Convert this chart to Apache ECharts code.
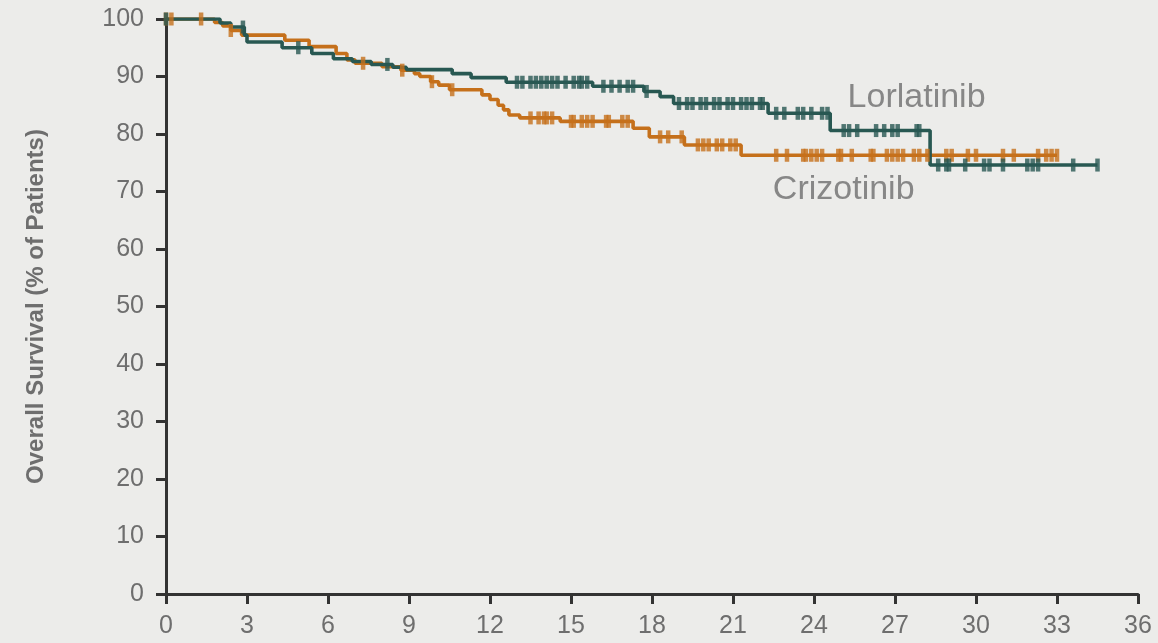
<!DOCTYPE html>
<html>
<head>
<meta charset="utf-8">
<script src="https://cdn.jsdelivr.net/npm/echarts@6/dist/echarts.min.js"></script>
<style>
  html, body { margin: 0; padding: 0; background: #ececea; }
  #chart { width: 1158px; height: 643px; }
</style>
</head>
<body>
<div id="chart"></div>
<script>
// Kaplan-Meier overall survival, months since randomisation
const xTicks = [0, 3, 6, 9, 12, 15, 18, 21, 24, 27, 30, 33, 36];
const yTicks = [0, 10, 20, 30, 40, 50, 60, 70, 80, 90, 100];

// step points: [month, survival %] - survival holds from this month onward
const lorlatinibSteps = [
  [0, 100], [2.0, 99.3], [2.4, 98.6], [2.9, 97.2], [3.0, 96.0], [4.3, 95.0],
  [5.4, 94.0], [6.2, 93.1], [6.9, 92.6], [7.6, 92.1], [8.4, 91.6], [8.9, 91.2],
  [10.6, 90.5], [11.3, 89.8], [12.6, 89.0], [15.8, 88.3], [17.7, 87.4],
  [18.3, 86.5], [18.8, 85.3], [22.3, 83.6], [24.6, 80.6], [28.3, 74.6], [34.5, 74.6]
];
const crizotinibSteps = [
  [0, 100], [1.8, 99.4], [2.1, 98.8], [2.4, 98.0], [2.8, 97.2], [4.4, 96.3],
  [5.3, 95.2], [6.3, 94.0], [6.7, 92.9], [7.0, 92.3], [8.0, 91.7], [8.7, 91.1],
  [9.2, 90.5], [9.4, 90.0], [9.8, 89.1], [10.1, 88.5], [10.5, 87.7], [11.7, 86.8],
  [12.0, 86.0], [12.3, 85.0], [12.5, 84.2], [12.7, 83.3], [13.1, 82.8], [14.6, 82.2],
  [17.3, 81.0], [17.9, 79.5], [19.2, 78.1], [21.3, 76.3], [33.0, 76.3]
];

// censored patients (months)
const lorlatinibCensored = [
  0, 2.85, 4.9, 8.2,
  13.0, 13.2, 13.5, 13.7, 13.9, 14.1, 14.3, 14.5, 14.8, 15.1, 15.3, 15.4, 15.6,
  16.2, 16.5, 16.8, 17.1, 17.3, 17.8,
  19.0, 19.3, 19.5, 19.8, 20.0, 20.3, 20.5, 20.8, 21.0, 21.3, 21.5, 21.7, 22.0, 22.1,
  22.6, 22.9, 23.4, 23.6, 23.9, 24.3, 24.5,
  25.1, 25.3, 25.6, 26.3, 26.6, 26.9, 27.1, 27.8, 27.9,
  28.6, 28.9, 29.0, 29.6, 30.3, 30.5, 31.0, 31.9, 32.1, 32.3, 33.6, 34.5
];
const crizotinibCensored = [
  0, 0.2, 1.3, 2.4, 7.3, 8.75, 9.85, 10.6,
  13.5, 13.8, 14.0, 14.1, 14.3, 15.0, 15.1, 15.4, 15.6, 15.8, 16.3, 16.4, 16.9, 17.1,
  18.3, 18.6, 19.1,
  19.7, 19.9, 20.1, 20.4, 20.6, 20.9, 21.1,
  22.6, 23.0, 23.6, 23.7, 23.9, 24.1, 24.3, 24.9, 25.0, 25.4, 26.1, 26.2, 26.7, 26.9,
  27.1, 27.3, 27.7, 27.9, 28.2,
  28.9, 29.1, 29.7, 30.0, 31.0, 31.4, 32.3, 32.6, 32.8, 33.0
];

// curve name labels: [month, survival %]
const lorlatinibLabelAt = [27.8, 86.4];
const crizotinibLabelAt = [25.1, 70.3];

const tealColor = '#285852';
const orangeColor = '#c5701b';
const textColor = '#6e6e6e';
const fontFamily = 'Liberation Sans, Arial, sans-serif';

// survival value of a step curve at month t
function survivalAt(steps, t) {
  let s = steps[0][1];
  for (const [m, v] of steps) {
    if (m <= t) s = v; else break;
  }
  return s;
}

const censorPoints = (steps, times) => times.map(t => [t, survivalAt(steps, t)]);

const censorSeries = (name, steps, times, color) => ({
  name: name,
  type: 'scatter',
  data: censorPoints(steps, times),
  symbol: 'rect',
  symbolSize: [4.5, 13],
  itemStyle: { color: color },
  z: 3,
  silent: true
});

const curveSeries = (name, steps, color) => ({
  name: name,
  type: 'line',
  step: 'end',
  data: steps,
  showSymbol: false,
  lineStyle: { color: color, width: 3.6 },
  z: 2,
  silent: true
});

const labelSeries = (text, at) => ({
  type: 'scatter',
  data: [at],
  symbolSize: 0,
  silent: true,
  label: {
    show: true,
    position: 'inside',
    formatter: text,
    fontFamily: fontFamily,
    fontSize: 34,
    color: textColor
  }
});

const chart = echarts.init(document.getElementById('chart'));
chart.setOption({
  backgroundColor: '#ececea',
  animation: false,
  grid: { left: 166, right: 20, top: 19, bottom: 49 },
  xAxis: {
    type: 'value',
    min: xTicks[0],
    max: xTicks[xTicks.length - 1],
    interval: 3,
    axisLine: { lineStyle: { color: '#333', width: 3 } },
    axisTick: { show: true, length: 10, lineStyle: { color: '#333', width: 3 } },
    axisLabel: { color: textColor, fontFamily: fontFamily, fontSize: 25, margin: 20 },
    splitLine: { show: false }
  },
  yAxis: {
    type: 'value',
    min: yTicks[0],
    max: yTicks[yTicks.length - 1],
    interval: 10,
    name: 'Overall Survival (% of Patients)',
    nameLocation: 'middle',
    nameGap: 118,
    nameTextStyle: { color: textColor, fontFamily: fontFamily, fontSize: 24, fontWeight: 'bold' },
    axisLine: { show: true, lineStyle: { color: '#333', width: 3 } },
    axisTick: { show: true, length: 10, lineStyle: { color: '#333', width: 3 } },
    axisLabel: { color: textColor, fontFamily: fontFamily, fontSize: 25, margin: 22 },
    splitLine: { show: false }
  },
  series: [
    curveSeries('Crizotinib', crizotinibSteps, orangeColor),
    curveSeries('Lorlatinib', lorlatinibSteps, tealColor),
    censorSeries('Crizotinib censored', crizotinibSteps, crizotinibCensored, orangeColor),
    censorSeries('Lorlatinib censored', lorlatinibSteps, lorlatinibCensored, tealColor),
    labelSeries('Lorlatinib', lorlatinibLabelAt),
    labelSeries('Crizotinib', crizotinibLabelAt)
  ]
});
</script>
</body>
</html>
